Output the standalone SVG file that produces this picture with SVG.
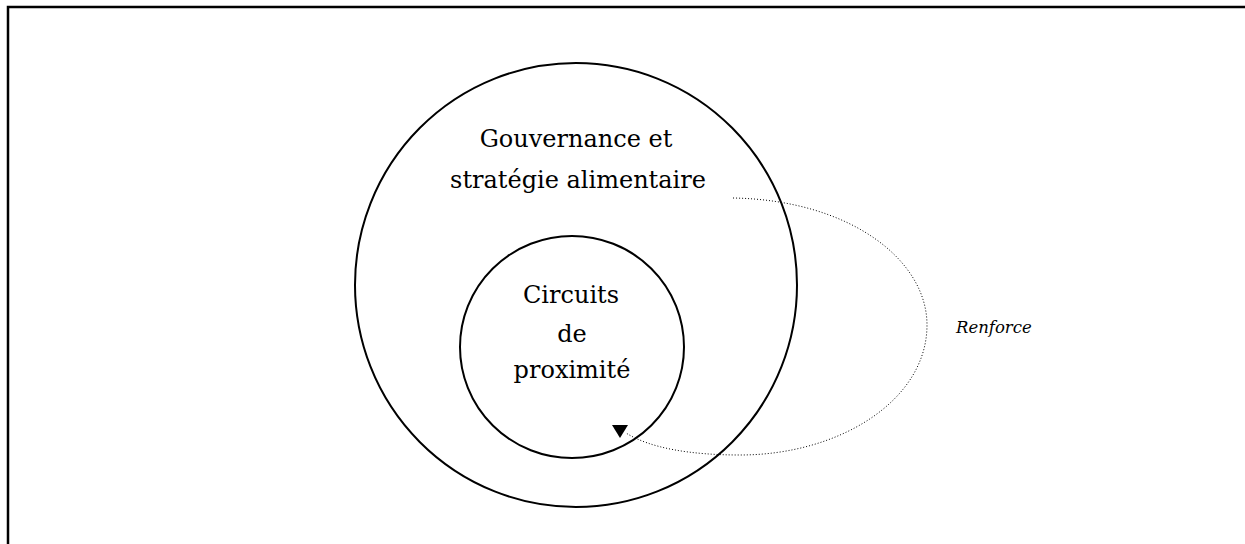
<svg xmlns="http://www.w3.org/2000/svg" width="1245" height="544" viewBox="0 0 1245 544">
<style>
.t{font-family:"DejaVu Serif","Liberation Serif",serif;font-size:24px;fill:#000;text-anchor:middle}
.r{font-family:"DejaVu Serif","Liberation Serif",serif;font-size:16.5px;font-style:italic;fill:#000}
.c{fill:none;stroke:#000;stroke-width:2}
</style>
<rect x="8" y="7" width="1260" height="560" fill="none" stroke="#000" stroke-width="2.5"/>
<g id="outer">
<ellipse class="c" cx="576" cy="285" rx="221" ry="222"/>
<text class="t" x="576" y="147">Gouvernance et</text>
<text class="t" x="578" y="188">stratégie alimentaire</text>
</g>
<g id="inner">
<ellipse class="c" cx="572" cy="347" rx="112" ry="111"/>
<text class="t" x="571" y="303">Circuits</text>
<text class="t" x="572" y="342">de</text>
<text class="t" x="572" y="378">proximité</text>
</g>
<g id="connectors">
<path d="M733,198 C850,200 927,260 927,325 C927,400 840,455 740,455 C690,455 650,448 626,433" fill="none" stroke="#000" stroke-width="1" stroke-dasharray="1,2"/>
<path d="M612,425 L628,425 L620,438 Z" fill="#000"/>
<text class="r" x="956" y="333">Renforce</text>
</g>
</svg>
